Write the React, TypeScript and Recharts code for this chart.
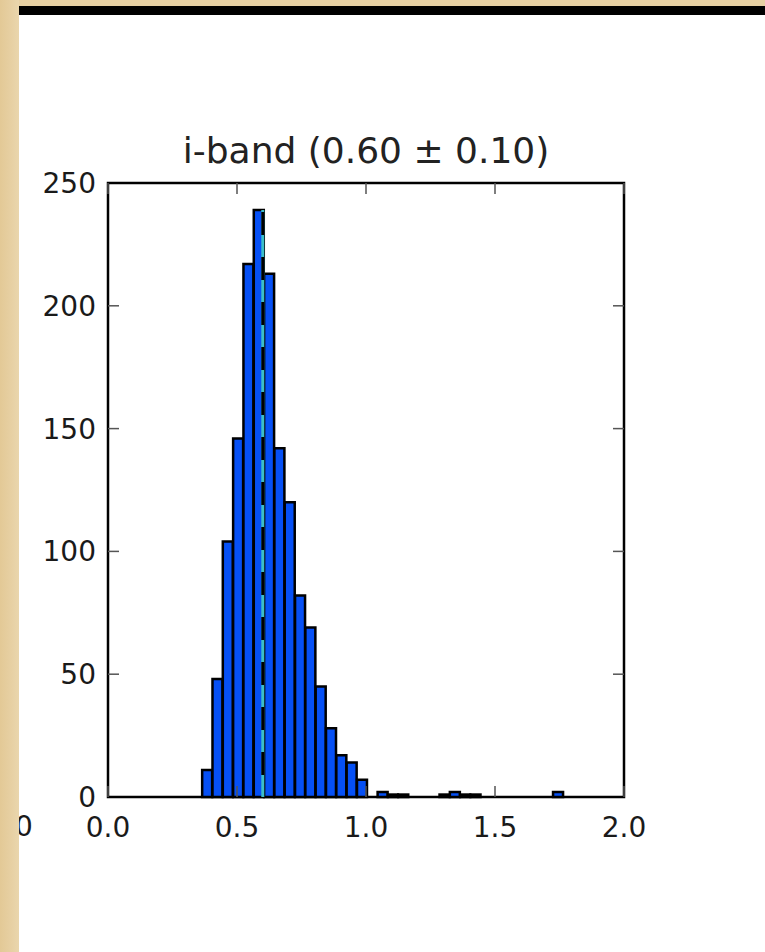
import { ComposedChart, Bar, XAxis, YAxis, ReferenceLine, ReferenceArea } from 'recharts'

// histogram bins (centre of each 0.04 wide bin) and counts
const BIN_CENTERS = [
  0.385, 0.425, 0.465, 0.505, 0.545, 0.585, 0.625, 0.665, 0.705, 0.745,
  0.785, 0.825, 0.865, 0.905, 0.945, 0.985, 1.025, 1.065, 1.105, 1.145,
  1.185, 1.225, 1.265, 1.305, 1.345, 1.385, 1.425, 1.465, 1.505, 1.545,
  1.585, 1.625, 1.665, 1.705, 1.745,
]
const COUNTS = [
  11, 48, 104, 146, 217, 239, 213, 142, 120, 82,
  69, 45, 28, 17, 14, 7, 0, 2, 1, 1,
  0, 0, 0, 1, 2, 1, 1, 0, 0, 0,
  0, 0, 0, 0, 2,
]
const X_TICKS = [0, 0.5, 1, 1.5, 2]
const Y_TICKS = [0, 50, 100, 150, 200, 250]
const MEDIAN = 0.6
const TITLE = 'i-band (0.60 ± 0.10)'

const FONT = '"DejaVu Sans", Verdana, sans-serif'
const PARCHMENT = '#e7d0a3'
const TICK_LEN = 11
const tickStyle = { fill: '#1a1a1a', fontSize: 28, fontFamily: FONT }
const innerTick = { stroke: '#555', strokeWidth: 1.5 }

// ticks drawn inside the frame: lines only, no labels
const NoLabel = () => <g />

// y ticks pointing inwards on the left and right edges of the frame
// eslint-disable-next-line @typescript-eslint/no-explicit-any
const EdgeTicks = (p: any) => {
  const left = Math.min(p.x1, p.x2)
  const right = Math.max(p.x1, p.x2)
  return (
    <g>
      <line x1={left} y1={p.y1} x2={left + TICK_LEN} y2={p.y1} {...innerTick} />
      <line x1={right - TICK_LEN} y1={p.y1} x2={right} y2={p.y1} {...innerTick} />
    </g>
  )
}

export default function App() {
  const data = BIN_CENTERS.map((x, i) => ({ x, count: COUNTS[i] }))
  const peak = Math.max(...COUNTS)
  const xDomain = [X_TICKS[0], X_TICKS[X_TICKS.length - 1]]
  const yDomain = [Y_TICKS[0], Y_TICKS[Y_TICKS.length - 1]]

  return (
    <div style={{ position: 'absolute', left: 0, top: 0, width: 765, height: 952, background: '#fff', overflow: 'hidden' }}>
      {/* clipped label from the neighbouring panel */}
      <div style={{ position: 'absolute', left: 15, top: 813, fontFamily: FONT, fontSize: 28, lineHeight: 1, color: '#1a1a1a' }}>0</div>

      <div style={{ position: 'absolute', left: 0, top: 0, width: 765, height: 6, background: PARCHMENT }} />
      <div style={{ position: 'absolute', left: 19, top: 6, width: 746, height: 9, background: '#000' }} />
      <div style={{ position: 'absolute', left: 0, top: 0, width: 19, height: 952, background: `linear-gradient(90deg, #e3c996, ${PARCHMENT} 60%, #ead6ad)` }} />

      <div style={{ position: 'absolute', left: 108, width: 516, top: 133, textAlign: 'center', fontFamily: FONT, fontSize: 36, lineHeight: 1, color: '#222', whiteSpace: 'pre' }}>
        {TITLE}
      </div>

      <div style={{ position: 'absolute', left: 0, top: 0 }}>
        <ComposedChart
          width={765}
          height={952}
          data={data}
          margin={{ top: 183, right: 141, bottom: 105, left: 18 }}
          barCategoryGap={0}
          barGap={0}
        >
          <XAxis
            type="number"
            dataKey="x"
            domain={xDomain}
            ticks={X_TICKS}
            tickFormatter={(v: number) => v.toFixed(1)}
            tick={tickStyle}
            tickLine={innerTick}
            tickSize={-TICK_LEN}
            tickMargin={31}
            height={50}
            axisLine={false}
          />
          <XAxis xAxisId="top" orientation="top" type="number" dataKey="x" domain={xDomain} ticks={X_TICKS} mirror tick={NoLabel} tickSize={TICK_LEN} axisLine={false} tickLine={innerTick} />
          <YAxis
            type="number"
            domain={yDomain}
            ticks={Y_TICKS}
            tick={tickStyle}
            tickLine={false}
            tickSize={6}
            tickMargin={6}
            width={90}
            axisLine={false}
          />

          <Bar dataKey="count" fill="#0650f5" stroke="#000" strokeWidth={2.5} isAnimationActive={false} />

          <ReferenceLine segment={[{ x: MEDIAN, y: 0 }, { x: MEDIAN, y: peak }]} stroke="#3cbfc8" strokeWidth={3} />
          <ReferenceLine segment={[{ x: MEDIAN, y: 0 }, { x: MEDIAN, y: peak }]} stroke="#000" strokeWidth={3} strokeDasharray="23 22" strokeDashoffset={23} />

          {Y_TICKS.slice(1, -1).map((v) => (
            <ReferenceLine key={v} y={v} shape={EdgeTicks} />
          ))}

          {/* axes frame */}
          <ReferenceArea x1={xDomain[0]} x2={xDomain[1]} y1={yDomain[0]} y2={yDomain[1]} fill="none" fillOpacity={0} stroke="#000" strokeWidth={2.5} strokeOpacity={1} />
        </ComposedChart>
      </div>
    </div>
  )
}
